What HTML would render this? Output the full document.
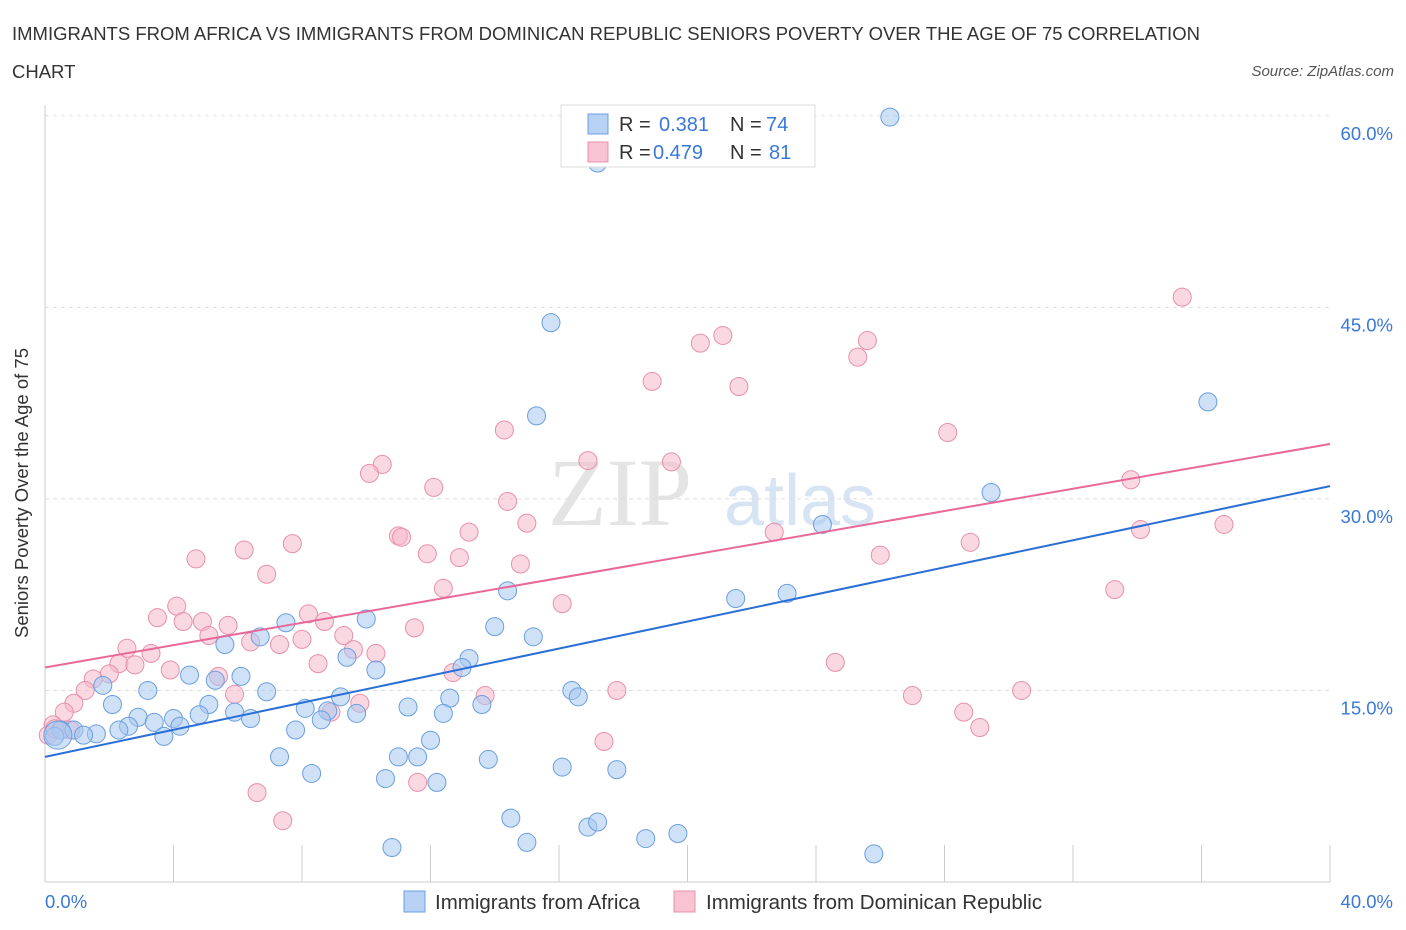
<!DOCTYPE html>
<html><head><meta charset="utf-8">
<style>
body{margin:0;background:#fff;font-family:"Liberation Sans",sans-serif;}
#wrap{position:relative;width:1406px;height:930px;overflow:hidden;}
</style></head>
<body>
<div id="wrap">
<svg id="chart" width="1406" height="930">
<text x="12" y="40" font-size="18.5" fill="#333">IMMIGRANTS FROM AFRICA VS IMMIGRANTS FROM DOMINICAN REPUBLIC SENIORS POVERTY OVER THE AGE OF 75 CORRELATION</text>
<text x="12" y="78" font-size="18.5" fill="#333">CHART</text>
<text x="1394" y="76" font-size="15" fill="#555" text-anchor="end" font-style="italic">Source: ZipAtlas.com</text>
<text x="620" y="525" font-size="96" fill="#e4e4e4" text-anchor="middle" font-family="Liberation Serif,serif">ZIP</text>
<text x="800" y="525" font-size="72" fill="#d6e4f4" text-anchor="middle">atlas</text>
<g id="grid"></g>
<g id="marks"></g>
<text x="28" y="493" font-size="18.5" fill="#333" text-anchor="middle" transform="rotate(-90 28 493)">Seniors Poverty Over the Age of 75</text>
<text x="45" y="908" font-size="18.5" fill="#3a78d8">0.0%</text>
<text x="1393" y="908" font-size="18.5" fill="#3a78d8" text-anchor="end">40.0%</text>
<g>
<rect x="561" y="105" width="254" height="62" fill="#fff" stroke="#ddd"/>
<rect x="588" y="114" width="20" height="20" fill="#b8d2f5" stroke="#6a9fe0"/>
<rect x="588" y="142" width="20" height="20" fill="#f8c4d4" stroke="#e890ab"/>
<text x="619" y="131" font-size="20" fill="#333">R = </text><text x="659" y="131" font-size="20" fill="#3a78d8">0.381</text>
<text x="730" y="131" font-size="20" fill="#333">N = </text><text x="766" y="131" font-size="20" fill="#3a78d8">74</text>
<text x="619" y="159" font-size="20" fill="#333">R = </text><text x="653" y="159" font-size="20" fill="#3a78d8">0.479</text>
<text x="730" y="159" font-size="20" fill="#333">N = </text><text x="769" y="159" font-size="20" fill="#3a78d8">81</text>
</g>
<g>
<rect x="404" y="891" width="21" height="21" fill="#b8d2f5" stroke="#6a9fe0"/>
<text x="435" y="909" font-size="20.5" fill="#333">Immigrants from Africa</text>
<rect x="674" y="891" width="21" height="21" fill="#f8c4d4" stroke="#e890ab"/>
<text x="706" y="909" font-size="20.5" fill="#333">Immigrants from Dominican Republic</text>
</g>
</svg>
</div>
<script>
const yTicks=[15,30,45,60];
const yTickLabels=["15.0%","30.0%","45.0%","60.0%"];
const xTickVals=[0,4,8,12,16,20,24,28,32,36,40];
const blueX=[26.3,17.2,15.75,15.3,29.45,36.2,24.2,23.1,21.5,14.4,14.0,15.2,10.0,7.5,6.7,5.6,13.2,12.98,9.4,10.3,4.5,5.3,6.1,1.8,3.2,6.9,16.4,16.6,12.6,9.2,2.1,5.1,8.1,11.3,13.6,5.9,6.4,4.8,8.8,9.7,12.4,2.9,3.4,4.0,8.6,2.6,2.3,4.2,0.5,0.9,1.6,1.2,0.3,3.7,7.8,12.0,7.3,11.0,11.6,13.8,16.1,17.8,8.3,10.6,12.2,14.5,16.9,17.2,19.7,18.7,15.0,10.8,25.8,0.4];
const blueY=[59.9,56.3,43.8,36.5,30.5,37.6,28.0,22.6,22.2,22.8,20.0,19.2,20.6,20.3,19.2,18.6,17.5,16.8,17.6,16.6,16.2,15.8,16.1,15.4,15.0,14.9,15.0,14.5,14.4,14.5,13.9,13.9,13.6,13.7,13.9,13.3,12.8,13.1,13.4,13.2,13.2,12.9,12.5,12.8,12.7,12.2,11.9,12.2,11.9,11.9,11.6,11.5,11.4,11.4,11.9,11.1,9.8,9.8,9.8,9.6,9.0,8.8,8.5,8.1,7.8,5.0,4.3,4.7,3.8,3.4,3.1,2.7,2.2,11.5];
const pinkX=[35.4,21.1,20.4,25.6,25.3,21.6,18.9,28.1,14.3,16.9,19.5,10.5,10.1,12.1,33.8,14.4,15.0,34.1,36.7,22.7,13.2,11.0,11.1,28.8,6.2,7.7,11.9,12.9,26.0,4.7,14.8,6.9,12.4,33.3,16.1,4.1,3.5,8.2,4.3,8.7,4.9,5.7,11.5,5.1,9.3,8.0,6.4,7.3,2.55,3.3,9.6,10.3,8.5,2.3,2.8,3.9,24.6,12.7,2.0,5.4,1.5,1.25,5.9,13.7,17.8,30.4,27.0,0.9,9.8,8.9,0.6,28.6,29.1,0.25,0.8,0.1,17.4,11.6,6.6,7.4,0.3];
const pinkY=[45.8,42.8,42.2,42.4,41.1,38.8,39.2,35.2,35.4,33.0,32.9,32.7,32.0,30.9,31.5,29.8,28.1,27.6,28.0,27.4,27.4,27.1,27.0,26.6,26.0,26.5,25.7,25.4,25.6,25.3,24.9,24.1,23.0,22.9,21.8,21.6,20.7,21.0,20.4,20.4,20.4,20.1,19.9,19.3,19.3,19.0,18.8,18.6,18.3,17.9,18.2,17.9,17.1,17.1,17.0,16.6,17.2,16.4,16.3,16.1,15.9,15.0,14.7,14.6,15.0,15.0,14.6,14.0,14.0,13.3,13.3,13.3,12.1,12.3,11.9,11.5,11.0,7.8,7.0,4.8,12.0];
const blueTrend=[9.8,31.0];
const pinkTrend=[16.8,34.3];
const ns="http://www.w3.org/2000/svg";
const X=v=>45+v/40*1285;
const Y=v=>882-v*12.77;
const grid=document.getElementById('grid'),marks=document.getElementById('marks');
function mk(tag,attrs,parent){const e=document.createElementNS(ns,tag);for(const k in attrs)e.setAttribute(k,attrs[k]);parent.appendChild(e);return e;}
const ax=mk('line',{x1:45,y1:105,x2:45,y2:882,stroke:'#ccc'},grid);


const bx=mk('line',{x1:45,y1:882,x2:1330,y2:882,stroke:'#ccc'},grid);


yTicks.forEach((t,i)=>{
 const g=mk('line',{x1:45,x2:1330,y1:Y(t),y2:Y(t),stroke:'#ddd','stroke-dasharray':'4,4'},grid);
 
 
 const tx=mk('text',{x:1393,y:Y(t)+24,'font-size':18.5,fill:'#3a78d8','text-anchor':'end'},grid);
 tx.textContent=yTickLabels[i];
 
 
});
xTickVals.forEach(t=>{
 const l=mk('line',{x1:X(t),x2:X(t),y1:845,y2:882,stroke:'#ccc'},grid);
 
 
});
function pts(xs,ys,fill,stroke,name){xs.forEach((x,i)=>{
 const c=mk('circle',{cx:X(x),cy:Y(ys[i]),r:(name==='africa-point'&&i===xs.length-1)?14:9,fill:fill,'fill-opacity':0.55,stroke:stroke,'stroke-width':1},marks);
 
 
});}
pts(pinkX,pinkY,'#f5b8cb','#e890ab','dominican-point');
pts(blueX,blueY,'#a8c8f0','#6a9fe0','africa-point');
const bl=mk('line',{x1:X(0),y1:Y(blueTrend[0]),x2:X(40),y2:Y(blueTrend[1]),stroke:'#2a6fd6','stroke-width':2},marks);


const pl=mk('line',{x1:X(0),y1:Y(pinkTrend[0]),x2:X(40),y2:Y(pinkTrend[1]),stroke:'#e8689a','stroke-width':2},marks);


</script>
</body></html>
